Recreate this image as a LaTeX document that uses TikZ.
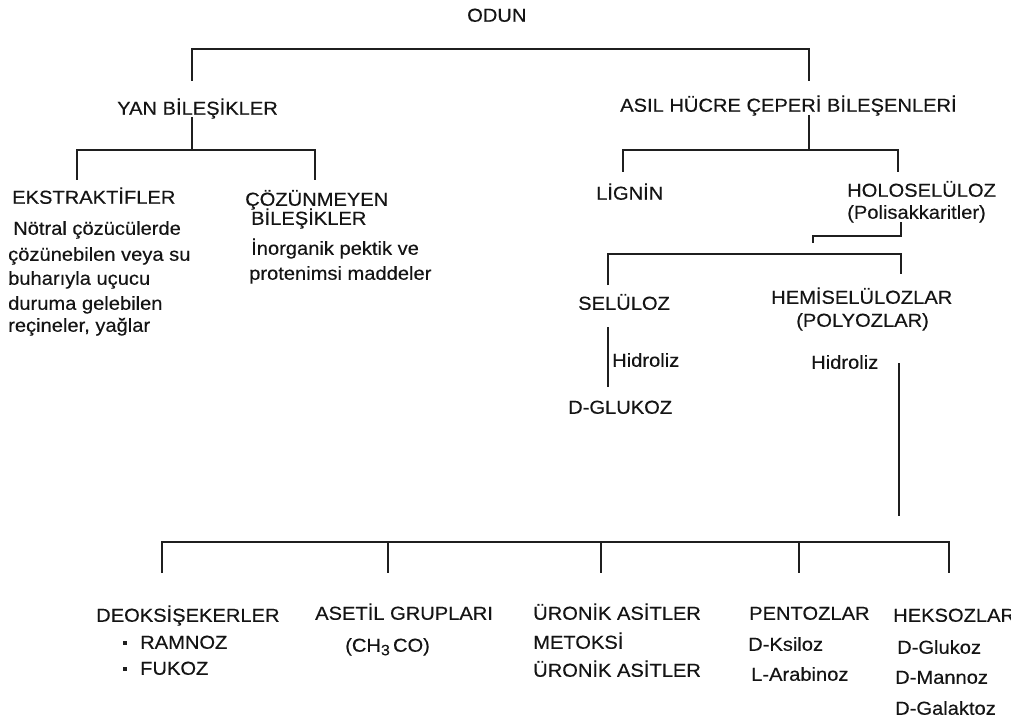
\documentclass[tikz,border=0pt]{standalone}
\usepackage{fontspec}
\setmainfont{Liberation Sans}[FakeStretch=1.07,FakeBold=0.35]
\begin{document}
\begin{tikzpicture}[x=1pt,y=-1pt,
  lbl/.style={anchor=west, inner sep=0pt, text height=13.5pt, text depth=0pt,
              font=\fontsize{18.8}{22}\selectfont, text=black!92},
  link/.style={line width=1.8pt, draw=black!88},
  bul/.style={fill=black!88, minimum size=4.5pt, inner sep=0pt}]
\useasboundingbox (0,0) rectangle (1011,722);

% ---- labels ----
\node[lbl] (odun) at (467,15) {ODUN};
\node[lbl] (yan)  at (117,108) {YAN BİLEŞİKLER};
\node[lbl] (asil) at (620,105) {ASIL HÜCRE ÇEPERİ BİLEŞENLERİ};

\node[lbl] (ekst) at (12,197) {EKSTRAKTİFLER};
\node[lbl] (ek1) at (13,228) {Nötral çözücülerde};
\node[lbl] (ek2) at (8,254) {çözünebilen veya su};
\node[lbl] (ek3) at (8,278) {buharıyla uçucu};
\node[lbl] (ek4) at (8,303) {duruma gelebilen};
\node[lbl] (ek5) at (8,325) {reçineler, yağlar};

\node[lbl] (coz1) at (245,199) {ÇÖZÜNMEYEN};
\node[lbl] (coz2) at (251,218) {BİLEŞİKLER};
\node[lbl] (cz1) at (251,248) {İnorganik pektik ve};
\node[lbl] (cz2) at (249,273) {protenimsi maddeler};

\node[lbl] (lignin) at (596,193) {LİGNİN};
\node[lbl] (holo)   at (847,190) {HOLOSELÜLOZ};
\node[lbl] (poli)   at (847,212) {(Polisakkaritler)};

\node[lbl] (sel)    at (578,303) {SELÜLOZ};
\node[lbl] (hemi)   at (771,297) {HEMİSELÜLOZLAR};
\node[lbl] (polyoz) at (796,320) {(POLYOZLAR)};
\node[lbl] (hid1)   at (612,360) {Hidroliz};
\node[lbl] (hid2)   at (811,362) {Hidroliz};
\node[lbl] (dglu)   at (568,407) {D-GLUKOZ};

\node[lbl] (deoks) at (96,615) {DEOKSİŞEKERLER};
\node[bul] (bu1) at (125,643) {};
\node[bul] (bu2) at (125,669) {};
\node[lbl] (ramn)  at (140,642) {RAMNOZ};
\node[lbl] (fuk)   at (140,668) {FUKOZ};

\node[lbl] (aset)  at (315,613) {ASETİL GRUPLARI};
\node[lbl] (ch3)   at (345,645) {(CH\raisebox{-3.5pt}{\fontsize{15}{15}\selectfont 3}\,CO)};

\node[lbl] (uro1)  at (533,613) {ÜRONİK ASİTLER};
\node[lbl] (metok) at (533,642) {METOKSİ};
\node[lbl] (uro2)  at (533,670) {ÜRONİK ASİTLER};

\node[lbl] (pent)  at (749,613) {PENTOZLAR};
\node[lbl] (ksil)  at (748,644) {D-Ksiloz};
\node[lbl] (arab)  at (751,674) {L-Arabinoz};

\node[lbl] (heks)  at (893,615) {HEKSOZLAR};
\node[lbl] (hglu)  at (897,647) {D-Glukoz};
\node[lbl] (hman)  at (895,677) {D-Mannoz};
\node[lbl] (hgal)  at (895,708) {D-Galaktoz};

% ---- bracket points ----
\coordinate (oL) at (192,81);  \coordinate (oLt) at (192,49);
\coordinate (oR) at (809,81);  \coordinate (oRt) at (809,49);

\coordinate (yS) at (192,117); \coordinate (yJ) at (192,150);
\coordinate (yL) at (77,180);  \coordinate (yLt) at (77,150);
\coordinate (yR) at (315,180); \coordinate (yRt) at (315,150);

\coordinate (aS) at (809,115); \coordinate (aJ) at (809,150);
\coordinate (aL) at (623,172); \coordinate (aLt) at (623,150);
\coordinate (aR) at (898,172); \coordinate (aRt) at (898,150);

\coordinate (hS) at (901,222); \coordinate (hK) at (901,236);
\coordinate (hM) at (813,236); \coordinate (hE) at (813,243);

\coordinate (sL) at (608,285); \coordinate (sLt) at (608,254);
\coordinate (sR) at (901,274); \coordinate (sRt) at (901,254);

\coordinate (g1) at (608,327); \coordinate (g2) at (608,387);
\coordinate (m1) at (899,363); \coordinate (m2) at (899,516);

\coordinate (bL) at (162,573); \coordinate (bLt) at (162,542);
\coordinate (bR) at (949,573); \coordinate (bRt) at (949,542);
\coordinate (b2) at (388,573); \coordinate (b2t) at (388,542);
\coordinate (b3) at (601,573); \coordinate (b3t) at (601,542);
\coordinate (b4) at (799,573); \coordinate (b4t) at (799,542);

% ---- connectors ----
\draw[link] (oL) -- (oLt) -- (oRt) -- (oR);
\draw[link] (yS) -- (yJ);
\draw[link] (yL) -- (yLt) -- (yRt) -- (yR);
\draw[link] (aS) -- (aJ);
\draw[link] (aL) -- (aLt) -- (aRt) -- (aR);
\draw[link] (hS) -- (hK) -- (hM) -- (hE);
\draw[link] (sL) -- (sLt) -- (sRt) -- (sR);
\draw[link] (g1) -- (g2);
\draw[link] (m1) -- (m2);
\draw[link] (bL) -- (bLt) -- (bRt) -- (bR);
\draw[link] (b2t) -- (b2);
\draw[link] (b3t) -- (b3);
\draw[link] (b4t) -- (b4);
\end{tikzpicture}
\end{document}
